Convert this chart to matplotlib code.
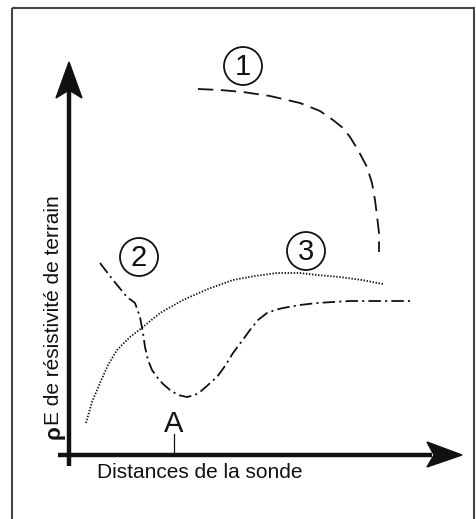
import matplotlib
matplotlib.use("Agg")
import matplotlib.pyplot as plt
from matplotlib.patches import Circle, Polygon, Rectangle

plt.rcParams['font.family'] = ['Liberation Sans', 'DejaVu Sans']
plt.rcParams['lines.scale_dashes'] = False

# curve points, in picture units (x right, y down)
c1_x = [198, 220, 243, 270, 300, 320, 333, 343, 350, 358, 367, 372, 375, 377, 379, 379]
c1_y = [89, 90, 92, 96, 103, 111, 120, 128, 137, 150, 167, 183, 200, 216, 233, 252]

c2_x = [100, 113, 127, 135, 140, 143, 145, 148, 152, 157, 163, 170, 178, 187, 195, 200, 208,
        217, 225, 233, 242, 250, 258, 267, 275, 283, 300, 317, 333, 350, 380, 410]
c2_y = [263, 280, 297, 303, 317, 333, 347, 360, 370, 377, 384, 390, 395, 397, 395, 392, 385,
        377, 366, 353, 341, 330, 320, 313, 310, 308, 305, 303, 302, 301, 301, 301]

c3_x = [86, 92, 100, 108, 117, 130, 143, 160, 183, 208, 233, 255, 277, 300, 317, 340, 362, 383]
c3_y = [423, 402, 383, 365, 350, 337, 327, 313, 300, 289, 280, 276, 273, 273, 275, 277, 280, 284]

labels = ["1", "2", "3"]
label_x = [243, 139, 306]
label_y = [66, 257, 251]

a_x = 174
y_title = "E de résistivité de terrain"
x_title = "Distances de la sonde"

fig = plt.figure(figsize=(4.76, 5.19), dpi=100)
ax = fig.add_axes([0, 0, 1, 1])
ax.set_xlim(0, 476)
ax.set_ylim(519, 0)
ax.axis("off")

# frame
ax.add_patch(Rectangle((12, 8), 462, 520, fill=False, ec="#444444", lw=1.5))

# axes lines
ax.plot([69, 69], [466, 90], color="#111111", lw=3.2, solid_capstyle="butt")
ax.plot([58, 432], [455, 455], color="#111111", lw=3.2, solid_capstyle="butt")
ax.add_patch(Polygon([[69, 62], [82, 98], [69, 90], [56, 98]], closed=True, color="#111111"))
ax.add_patch(Polygon([[462, 455], [427, 467], [434, 455], [427, 442]], closed=True, color="#111111"))

# curves
l1, = ax.plot(c1_x, c1_y, color="#111111", lw=1.3)
l1.set_dashes([11, 5.5])
l2, = ax.plot(c2_x, c2_y, color="#111111", lw=1.3)
l2.set_dashes([9, 3, 1.5, 3])
l3, = ax.plot(c3_x, c3_y, color="#111111", lw=1.3)
l3.set_dashes([1, 1.2])

# circled numbers
for t, x, y in zip(labels, label_x, label_y):
    ax.add_patch(Circle((x, y), 19, fill=False, ec="#111111", lw=1.3))
    ax.text(x, y + 1, t, ha="center", va="center", fontsize=21, color="#111111")

# point A
ax.plot([a_x, a_x], [434, 455], color="#111111", lw=0.9)
ax.text(a_x, 432, "A", ha="center", va="baseline", fontsize=21, color="#111111")

# axis titles
ax.text(97, 472, x_title, ha="left", va="center", fontsize=15, color="#111111")
ax.text(54, 432, "ρ", ha="center", va="center", rotation=90, fontsize=16,
        fontweight="bold", color="#111111")
ax.text(54, 425, y_title, ha="center", va="bottom", rotation=90, fontsize=15,
        color="#111111")

fig.savefig("out.png", dpi=100)
